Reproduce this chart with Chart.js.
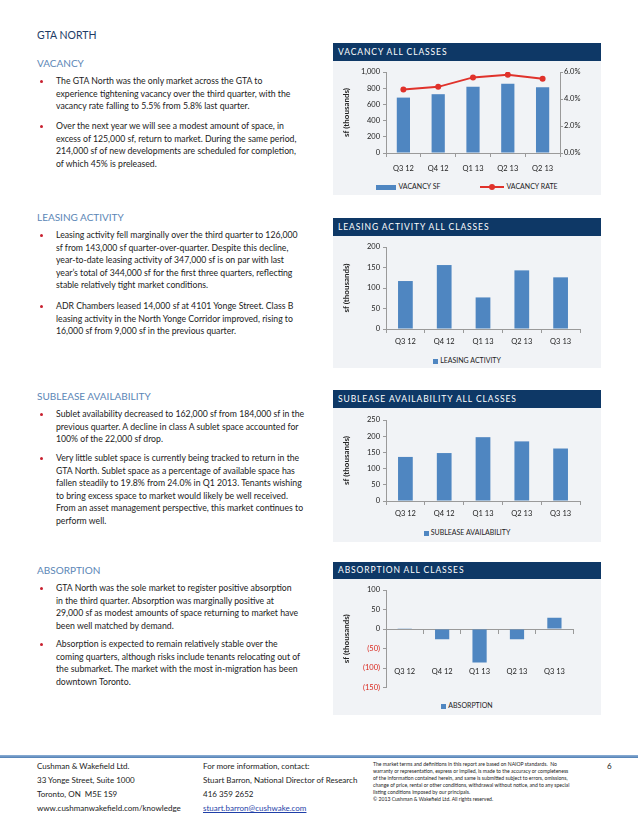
<!DOCTYPE html>
<html lang="en">
<head>
    <meta charset="UTF-8">
    <title>GTA North</title>
    <script src="https://cdn.jsdelivr.net/npm/chart.js"></script>
    <style>
        body {
            margin: 0;
            width: 638px;
            height: 826px;
            position: relative;
            background: #fff;
            font-family: Lato, "Open Sans", sans-serif;
            color: #222;
            overflow: hidden;
        }
        .abs { position: absolute; }
        .title {
            left: 37px;
            font-size: 10.5px;
            color: #1d3c66;
        }
        .heading {
            left: 37px;
            font-size: 10px;
            color: #5b86b6;
        }
        .bullet {
            left: 56px;
            font-size: 8.7px;
            line-height: 12.5px;
            white-space: nowrap;
        }
        .bullet::before {
            content: "";
            position: absolute;
            left: -16px;
            top: 5px;
            width: 3px;
            height: 3px;
            border-radius: 50%;
            background: #c8202f;
        }
        .panel {
            position: absolute;
            left: 333px;
            width: 268px;
        }
        .phead {
            height: 18px;
            line-height: 18px;
            background: #0e3866;
            color: #fff;
            font-size: 8.5px;
            letter-spacing: 0.9px;
            padding-left: 5px;
        }
        .pbody {
            position: relative;
            background: #f1f3f6;
        }
        .cwrap {
            position: absolute;
            left: 0;
            top: 0;
            width: 268px;
        }
        .legend {
            position: absolute;
            left: 0;
            width: 268px;
            text-align: center;
            font-size: 7px;
            line-height: 8px;
            white-space: nowrap;
        }
        .legend span.item { display: inline-block; vertical-align: middle; }
        .legend span.sw { display: inline-block; vertical-align: middle; margin-right: 2px; position: relative; }
        .foot {
            font-size: 8px;
            line-height: 14px;
            white-space: nowrap;
        }
        .fine {
            font-size: 5.1px;
            line-height: 7px;
            white-space: nowrap;
        }
    </style>
</head>
<body>

<!-- left column text -->
<div class="abs title" style="top:29px">GTA NORTH</div>

<div class="abs heading" style="top:57px">VACANCY</div>
<div class="abs bullet" style="top:75px">The GTA North was the only market across the GTA to<br>experience tightening vacancy over the third quarter, with the<br>vacancy rate falling to 5.5% from 5.8% last quarter.</div>
<div class="abs bullet" style="top:120px">Over the next year we will see a modest amount of space, in<br>excess of 125,000 sf, return to market. During the same period,<br>214,000 sf of new developments are scheduled for completion,<br>of which 45% is preleased.</div>

<div class="abs heading" style="top:211px">LEASING ACTIVITY</div>
<div class="abs bullet" style="top:229px">Leasing activity fell marginally over the third quarter to 126,000<br>sf from 143,000 sf quarter-over-quarter. Despite this decline,<br>year-to-date leasing activity of 347,000 sf is on par with last<br>year’s total of 344,000 sf for the first three quarters, reflecting<br>stable relatively tight market conditions.</div>
<div class="abs bullet" style="top:300px">ADR Chambers leased 14,000 sf at 4101 Yonge Street. Class B<br>leasing activity in the North Yonge Corridor improved, rising to<br>16,000 sf from 9,000 sf in the previous quarter.</div>

<div class="abs heading" style="top:390px">SUBLEASE AVAILABILITY</div>
<div class="abs bullet" style="top:408px">Sublet availability decreased to 162,000 sf from 184,000 sf in the<br>previous quarter. A decline in class A sublet space accounted for<br>100% of the 22,000 sf drop.</div>
<div class="abs bullet" style="top:452px">Very little sublet space is currently being tracked to return in the<br>GTA North. Sublet space as a percentage of available space has<br>fallen steadily to 19.8% from 24.0% in Q1 2013. Tenants wishing<br>to bring excess space to market would likely be well received.<br>From an asset management perspective, this market continues to<br>perform well.</div>

<div class="abs heading" style="top:564px">ABSORPTION</div>
<div class="abs bullet" style="top:582px">GTA North was the sole market to register positive absorption<br>in the third quarter. Absorption was marginally positive at<br>29,000 sf as modest amounts of space returning to market have<br>been well matched by demand.</div>
<div class="abs bullet" style="top:638px">Absorption is expected to remain relatively stable over the<br>coming quarters, although risks include tenants relocating out of<br>the submarket. The market with the most in-migration has been<br>downtown Toronto.</div>

<!-- chart panels -->
<div class="panel" style="top:43px">
    <div class="phead">VACANCY ALL CLASSES</div>
    <div class="pbody" style="height:134px">
        <div class="cwrap" style="height:117px"><canvas id="vacancyChart"></canvas></div>
        <div class="legend" id="vacancyLegend" style="top:120px"></div>
    </div>
</div>

<div class="panel" style="top:218px">
    <div class="phead">LEASING ACTIVITY ALL CLASSES</div>
    <div class="pbody" style="height:132px">
        <div class="cwrap" style="height:117px"><canvas id="leasingChart"></canvas></div>
        <div class="legend" id="leasingLegend" style="top:119px"></div>
    </div>
</div>

<div class="panel" style="top:390px">
    <div class="phead">SUBLEASE AVAILABILITY ALL CLASSES</div>
    <div class="pbody" style="height:134px">
        <div class="cwrap" style="height:117px"><canvas id="subleaseChart"></canvas></div>
        <div class="legend" id="subleaseLegend" style="top:119px"></div>
    </div>
</div>

<div class="panel" style="top:562px">
    <div class="phead" style="height:17px;line-height:17px">ABSORPTION ALL CLASSES</div>
    <div class="pbody" style="height:136px">
        <div class="cwrap" style="height:116px"><canvas id="absorptionChart"></canvas></div>
        <div class="legend" id="absorptionLegend" style="top:121px"></div>
    </div>
</div>

<!-- footer -->
<div class="abs" style="left:0;top:755px;width:638px;height:3px;background:linear-gradient(#8fb0d6,#4f7fb4)"></div>
<div class="abs foot" style="left:37px;top:759px">Cushman &amp; Wakefield Ltd.<br>33 Yonge Street, Suite 1000<br>Toronto, ON&nbsp; M5E 1S9<br>www.cushmanwakefield.com/knowledge</div>
<div class="abs foot" style="left:203px;top:759px">For more information, contact:<br>Stuart Barron, National Director of Research<br>416 359 2652<br><span style="color:#1f3fa8;text-decoration:underline">stuart.barron@cushwake.com</span></div>
<div class="abs fine" style="left:373px;top:761px">The market terms and definitions in this report are based on NAIOP standards.&nbsp; No<br>warranty or representation, express or implied, is made to the accuracy or completeness<br>of the information contained herein, and same is submitted subject to errors, omissions,<br>change of price, rental or other conditions, withdrawal without notice, and to any special<br>listing conditions imposed by our principals.<br>© 2013 Cushman &amp; Wakefield Ltd. All rights reserved.</div>
<div class="abs foot" style="left:607px;top:759px">6</div>

<script>
    // chart data
    const vacancyQuarters = ['Q3 12', 'Q4 12', 'Q1 13', 'Q2 13', 'Q2 13'];
    const quarters = ['Q3 12', 'Q4 12', 'Q1 13', 'Q2 13', 'Q3 13'];
    const vacancySf = [684, 726, 819, 856, 812];        // sf (thousands)
    const vacancyRate = [4.7, 4.9, 5.6, 5.8, 5.5];      // %
    const leasingActivity = [117, 156, 77, 143, 126];
    const subleaseAvailability = [136, 148, 197, 184, 162];
    const absorption = [2, -26, -86, -26, 29];

    const barColor = '#4f86c1';
    const lineColor = '#e0322b';
    const axisColor = '#9a9a9a';
    const tickFont = {family: 'Lato', size: 7.5};
    const textColor = '#222';

    function xAxis() {
        return {
            grid: {offset: true, drawOnChartArea: false, tickLength: 4, color: axisColor},
            border: {color: axisColor},
            ticks: {font: tickFont, color: textColor, padding: 4, maxRotation: 0},
            afterFit: s => { s.height = 24; }
        };
    }

    function yAxis(min, max, step, fmt) {
        return {
            min: min,
            max: max,
            grid: {drawOnChartArea: false, tickLength: 3, color: axisColor},
            border: {color: axisColor},
            ticks: {stepSize: step, font: tickFont, color: textColor, padding: 3, callback: fmt},
            title: {
                display: true,
                text: 'sf (thousands)',
                font: {family: 'Lato', size: 8, weight: 'bold'},
                color: textColor,
                padding: {top: 9, bottom: 0}
            },
            afterFit: s => { s.width = 53; }
        };
    }

    // small html legend built from the datasets
    function buildLegend(id, chart, wide) {
        const el = document.getElementById(id);
        chart.data.datasets.forEach((ds, i) => {
            const item = document.createElement('span');
            item.className = 'item';
            if (i > 0) item.style.marginLeft = '40px';
            const sw = document.createElement('span');
            sw.className = 'sw';
            if (ds.type === 'line') {
                sw.style.width = '24px';
                sw.style.height = '2px';
                sw.style.background = ds.borderColor;
                const dot = document.createElement('span');
                dot.style.cssText = 'position:absolute;left:9px;top:-2px;width:6px;height:6px;border-radius:50%;background:' + ds.borderColor;
                sw.appendChild(dot);
            } else {
                sw.style.width = wide ? '20px' : '5px';
                sw.style.height = '5px';
                sw.style.background = ds.backgroundColor;
            }
            item.appendChild(sw);
            item.appendChild(document.createTextNode(ds.label));
            el.appendChild(item);
        });
    }

    const common = {
        responsive: true,
        maintainAspectRatio: false,
        animation: false,
        plugins: {legend: {display: false}, tooltip: {enabled: false}}
    };

    // vacancy: bars + rate line on right axis
    const vacX = xAxis();
    vacX.ticks.padding = 7;
    vacX.afterFit = s => { s.height = 25; };

    const vacancyChart = new Chart(document.getElementById('vacancyChart'), {
        data: {
            labels: vacancyQuarters,
            datasets: [{
                type: 'bar',
                label: 'VACANCY SF',
                data: vacancySf,
                backgroundColor: barColor,
                barPercentage: 0.38,
                categoryPercentage: 1,
                order: 1
            }, {
                type: 'line',
                label: 'VACANCY RATE',
                data: vacancyRate,
                yAxisID: 'y1',
                borderColor: lineColor,
                backgroundColor: lineColor,
                borderWidth: 2,
                pointRadius: 3,
                pointBorderWidth: 0,
                tension: 0,
                order: 0
            }]
        },
        options: Object.assign({}, common, {
            layout: {padding: {top: 11, right: 0, bottom: 0, left: 0}},
            scales: {
                x: vacX,
                y: yAxis(0, 1000, 200, v => v.toLocaleString('en-US')),
                y1: {
                    position: 'right',
                    min: 0,
                    max: 6,
                    grid: {drawOnChartArea: false, tickLength: 3, color: axisColor},
                    border: {color: axisColor},
                    ticks: {stepSize: 2, font: tickFont, color: textColor, padding: 1, callback: v => v.toFixed(1) + '%'},
                    afterFit: s => { s.width = 41; }
                }
            }
        })
    });
    buildLegend('vacancyLegend', vacancyChart, true);

    function simpleBar(canvasId, label, values, max, step, topPad) {
        return new Chart(document.getElementById(canvasId), {
            type: 'bar',
            data: {
                labels: quarters,
                datasets: [{
                    label: label,
                    data: values,
                    backgroundColor: barColor,
                    barPercentage: 0.38,
                    categoryPercentage: 1
                }]
            },
            options: Object.assign({}, common, {
                layout: {padding: {top: topPad, right: 21, bottom: 0, left: 0}},
                scales: {
                    x: xAxis(),
                    y: yAxis(0, max, step)
                }
            })
        });
    }

    const leasingChart = simpleBar('leasingChart', 'LEASING ACTIVITY', leasingActivity, 200, 50, 11);
    buildLegend('leasingLegend', leasingChart, false);

    const subleaseChart = simpleBar('subleaseChart', 'SUBLEASE AVAILABILITY', subleaseAvailability, 250, 50, 12);
    buildLegend('subleaseLegend', subleaseChart, false);

    // absorption: x axis sits on zero, negatives shown in red brackets
    const absX = xAxis();
    absX.position = {y: 0};
    absX.ticks.padding = 34;
    delete absX.afterFit;
    const absY = yAxis(-150, 100, 50, v => v < 0 ? '(' + Math.abs(v) + ')' : v);
    absY.ticks.color = ctx => ctx.tick && ctx.tick.value < 0 ? '#d9261c' : textColor;

    const absorptionChart = new Chart(document.getElementById('absorptionChart'), {
        type: 'bar',
        data: {
            labels: quarters,
            datasets: [{
                label: 'ABSORPTION',
                data: absorption,
                backgroundColor: barColor,
                barPercentage: 0.38,
                categoryPercentage: 1
            }]
        },
        options: Object.assign({}, common, {
            layout: {padding: {top: 11, right: 21, bottom: 5, left: 0}},
            scales: {x: absX, y: absY}
        })
    });
    buildLegend('absorptionLegend', absorptionChart, false);
</script>

</body>
</html>
